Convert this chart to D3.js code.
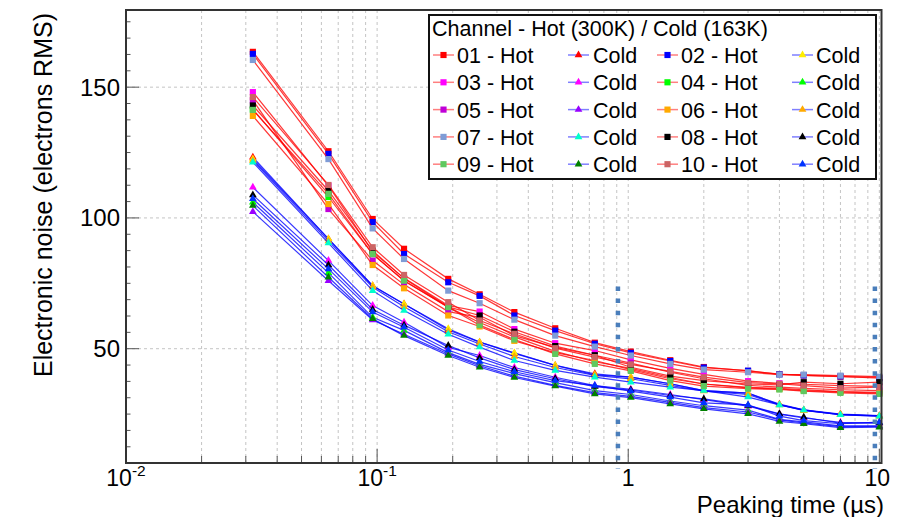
<!DOCTYPE html>
<html><head><meta charset="utf-8">
<script src="https://cdn.jsdelivr.net/npm/d3@7"></script>
<style>
body{margin:0;background:#fff}
svg{display:block}
text{font-family:"Liberation Sans",Arial,Helvetica,sans-serif;fill:#000}
</style>
</head><body>
<svg id="c" width="907" height="517"></svg>
<script>
// ---------------- DATA ----------------
const peakingTime = [0.032,0.064,0.096,0.128,0.192,0.256,0.352,0.512,0.736,1.024,1.47,2,3,4,5,7,10];
const channels = ["01","02","03","04","05","06","07","08","09","10"];

// Hot (300K)
const hot01 = [163.5,125.5,99.6,88.2,76.7,70.8,64.0,57.8,52.3,48.9,45.6,43.0,41.5,40.3,39.8,39.3,39.0];
const hot02 = [162.7,124.5,98.4,86.2,75.4,70.2,62.7,56.9,51.9,48.4,45.3,42.8,41.6,40.2,39.8,39.4,38.7];
const hot03 = [148.1,112.3,87.0,77.0,66.5,64.2,57.5,52.1,49.3,45.7,42.5,40.2,37.6,36.8,36.4,35.9,35.6];
const hot04 = [141.5,108.0,86.2,76.0,65.9,60.0,54.5,49.0,45.0,42.5,39.0,36.5,35.2,34.8,34.3,33.6,33.3];
const hot05 = [145.0,103.4,83.7,74.5,64.2,62.0,55.0,50.5,47.5,44.5,41.0,38.5,36.0,35.3,34.8,34.3,34.0];
const hot06 = [139.0,105.3,82.0,73.1,62.7,58.5,53.0,48.5,45.5,42.0,38.5,36.5,35.0,34.6,34.0,33.5,33.0];
const hot07 = [160.4,122.5,96.0,84.3,72.2,67.4,61.1,55.0,50.8,47.4,44.2,42.0,41.0,40.1,40.1,39.7,39.3];
const hot08 = [143.0,110.4,87.5,76.8,66.0,62.7,56.5,51.0,47.5,42.9,39.5,37.8,36.5,36.2,37.2,36.6,37.2];
const hot09 = [141.3,109.2,86.2,76.0,65.9,59.0,53.5,48.0,44.2,41.5,37.8,35.7,34.7,34.4,33.8,33.1,32.7];
const hot10 = [146.2,112.6,88.8,78.2,67.8,60.8,55.7,50.2,46.8,44.0,41.3,39.1,37.0,36.6,35.9,34.9,35.3];

// Cold (163K)
const cold01 = [123.2,92.0,74.1,67.1,57.2,52.5,48.2,43.6,40.4,39.1,36.6,34.0,33.0,28.8,26.6,25.0,24.4];
const cold02 = [122.5,92.0,74.1,67.1,57.6,52.5,48.4,43.6,40.0,39.1,36.6,34.0,33.0,28.6,26.4,24.9,24.3];
const cold03 = [111.7,83.7,66.5,60.1,50.5,47.4,42.8,39.1,35.9,34.5,32.5,30.5,28.0,25.0,23.5,21.8,21.5];
const cold04 = [106.0,79.0,62.0,57.0,48.5,44.0,40.5,37.0,34.0,32.5,30.0,28.2,26.5,23.0,22.0,20.5,20.5];
const cold05 = [102.4,76.0,61.0,55.5,48.0,43.5,39.5,36.0,33.2,31.8,29.5,27.5,25.8,22.8,21.6,20.2,20.3];
const cold06 = [122.0,91.2,73.5,66.0,56.5,51.8,47.0,42.8,39.8,38.5,36.0,33.8,32.5,28.5,26.4,24.8,24.2];
const cold07 = [121.3,90.4,72.2,64.6,55.5,50.6,45.5,41.7,39.1,37.2,35.3,34.0,31.5,28.5,26.6,24.7,24.2];
const cold08 = [108.8,82.0,65.0,59.0,51.2,46.5,42.0,38.5,35.5,34.2,32.1,30.8,28.3,25.1,23.8,21.5,21.7];
const cold09 = [104.7,77.3,61.4,55.0,47.4,42.9,39.0,35.7,32.7,31.3,28.9,27.0,25.1,22.2,21.3,19.8,20.0];
const cold10 = [107.3,80.5,64.0,58.2,49.5,45.1,41.2,37.8,35.9,33.8,31.5,29.3,28.5,24.2,22.5,21.3,21.9];

const hotSeries  = [hot01,hot02,hot03,hot04,hot05,hot06,hot07,hot08,hot09,hot10];
const coldSeries = [cold01,cold02,cold03,cold04,cold05,cold06,cold07,cold08,cold09,cold10];

const yTickValues = [50,100,150];
const xDecadeValues = [0.01,0.1,1,10];
const xDecadeLabels = [["10","-2"],["10","-1"],["1",""],["10",""]];
const referenceTimes = [0.91, 9.6];
const legendHeader = "Channel - Hot (300K) / Cold (163K)";
const xTitle = "Peaking time (\u00b5s)";
const yTitle = "Electronic noise (electrons RMS)";

// ---------------- STYLE ----------------
const hotMarkerColors  = ["#ff0000","#0000ff","#ff00ff","#00ff00","#c000d8","#ffaa00","#7f9cd6","#000000","#5fc85f","#cc6464"];
const coldMarkerColors = ["#ff0000","#ffee00","#ff00ff","#00ff00","#9900ff","#ffaa00","#00ffcc","#000000","#008000","#0033ff"];

// ---------------- LAYOUT ----------------
const L = 126, R = 881.5, T = 10, B = 463;
const svg = d3.select("#c");
const x = d3.scaleLog().domain([0.01, 10.2]).range([L, R]);
const y = d3.scaleLinear().domain([6.3, 179.5]).range([B, T]);

const gridColor = "#c4c4c4";
const logTicks = [];
[0.01,0.1,1].forEach(d => { for (let k = 1; k <= 9; k++) logTicks.push(d*k); });
logTicks.push(10);
svg.append("g").selectAll("line").data(logTicks.filter(v => v > 0.01)).join("line")
  .attr("x1", d => x(d)).attr("x2", d => x(d)).attr("y1", T).attr("y2", B)
  .attr("stroke", gridColor).attr("stroke-width", 1).attr("stroke-dasharray", "3,3");
svg.append("g").selectAll("line").data(yTickValues).join("line")
  .attr("x1", L).attr("x2", R).attr("y1", d => y(d)).attr("y2", d => y(d))
  .attr("stroke", gridColor).attr("stroke-width", 1).attr("stroke-dasharray", "3,3");

// ticks
const tickColor = "#555";
const yMinor = d3.range(12.5, 179.5, 6.25).filter(v => yTickValues.indexOf(v) < 0);
svg.append("g").selectAll("line").data(yMinor).join("line")
  .attr("x1", L).attr("x2", L+4.5).attr("y1", d => y(d)).attr("y2", d => y(d))
  .attr("stroke", tickColor).attr("stroke-width", 1);
svg.append("g").selectAll("line").data(yTickValues).join("line")
  .attr("x1", L).attr("x2", L+13).attr("y1", d => y(d)).attr("y2", d => y(d))
  .attr("stroke", tickColor).attr("stroke-width", 1);
svg.append("g").selectAll("line").data(logTicks.filter(v => v > 0.01)).join("line")
  .attr("x1", d => x(d)).attr("x2", d => x(d)).attr("y1", B)
  .attr("y2", d => xDecadeValues.some(v => Math.abs(v-d) < 1e-9) ? B-14 : B-7)
  .attr("stroke", tickColor).attr("stroke-width", 1);

// tick labels
svg.append("g").selectAll("text").data(yTickValues).join("text")
  .attr("x", L-6).attr("y", d => y(d)).attr("dy", "0.35em")
  .attr("text-anchor", "end").attr("font-size", 24).text(d => d);
const xl = svg.append("g").selectAll("text").data(xDecadeValues).join("text")
  .attr("x", (d,i) => i === 3 ? x(d) - 2 : x(d)).attr("y", 486)
  .attr("text-anchor", "middle").attr("font-size", 23);
xl.append("tspan").text((d,i) => xDecadeLabels[i][0]);
xl.append("tspan").attr("font-size", 15.5).attr("dy", -10).text((d,i) => xDecadeLabels[i][1]);

// titles
svg.append("text").attr("x", 884).attr("y", 513).attr("text-anchor", "end")
  .attr("font-size", 24).text(xTitle);
svg.append("text").attr("transform", "translate(52,13) rotate(-90)")
  .attr("text-anchor", "end").attr("font-size", 25).text(yTitle);

// ---------------- DATA MARKS ----------------
const line = d3.line().x((d,i) => x(peakingTime[i])).y(d => y(d));
const sq = d3.symbol().type(d3.symbolSquare).size(38);
const tri = d3.symbol().type(d3.symbolTriangle).size(26);
const gData = svg.append("g");
channels.forEach((ch, c) => {
  [["hot", hotSeries[c], "#ff0000", hotMarkerColors[c], sq],
   ["cold", coldSeries[c], "#0000ff", coldMarkerColors[c], tri]].forEach(([kind, vals, lc, mc, sym]) => {
    const g = gData.append("g");
    g.append("path").attr("d", line(vals)).attr("fill", "none")
      .attr("stroke", lc).attr("stroke-opacity", 0.78).attr("stroke-width", 1.2);
    g.selectAll("path.m").data(vals).join("path").attr("class", "m")
      .attr("transform", (d,i) => `translate(${x(peakingTime[i])},${y(d)})`)
      .attr("d", sym).attr("fill", mc);
  });
});

// reference dashed lines
svg.append("g").selectAll("line").data(referenceTimes).join("line")
  .attr("x1", d => x(d)).attr("x2", d => x(d)).attr("y1", y(73.8)).attr("y2", y(4.2))
  .attr("stroke", "#4a7ebb").attr("stroke-width", 4.5).attr("stroke-dasharray", "4.5,7.6");

// frame
svg.append("rect").attr("x", L).attr("y", T).attr("width", R-L).attr("height", B-T)
  .attr("fill", "none").attr("stroke", "#333").attr("stroke-width", 2);

// ---------------- LEGEND ----------------
const lg = svg.append("g");
lg.append("rect").attr("x", 429).attr("y", 15).attr("width", 447).attr("height", 164)
  .attr("fill", "#fff").attr("stroke", "#111").attr("stroke-width", 2);
lg.append("text").attr("x", 432).attr("y", 36).attr("font-size", 21.5).text(legendHeader);
const colLineStart = [433, 568, 657, 792];
const colText = [457, 593, 681, 816];
const rowCenter0 = 55, rowPitch = 27.3;
channels.forEach((ch, c) => {
  const row = Math.floor(c / 2);
  const half = c % 2;
  const cy = rowCenter0 + row * rowPitch;
  [["hot", 0], ["cold", 1]].forEach(([kind, k]) => {
    const col = half * 2 + k;
    const x0 = colLineStart[col];
    const lc = kind === "hot" ? "#ff0000" : "#0000ff";
    const mc = kind === "hot" ? hotMarkerColors[c] : coldMarkerColors[c];
    lg.append("line").attr("x1", x0).attr("x2", x0+21).attr("y1", cy).attr("y2", cy)
      .attr("stroke", lc).attr("stroke-opacity", 0.5).attr("stroke-width", 1.5);
    lg.append("path").attr("transform", `translate(${x0+10.5},${cy})`)
      .attr("d", kind === "hot" ? sq : tri).attr("fill", mc);
    lg.append("text").attr("x", colText[col]).attr("y", cy + 8).attr("font-size", 21.5)
      .text(kind === "hot" ? ch + " - Hot" : "Cold");
  });
});
</script>
</body></html>
